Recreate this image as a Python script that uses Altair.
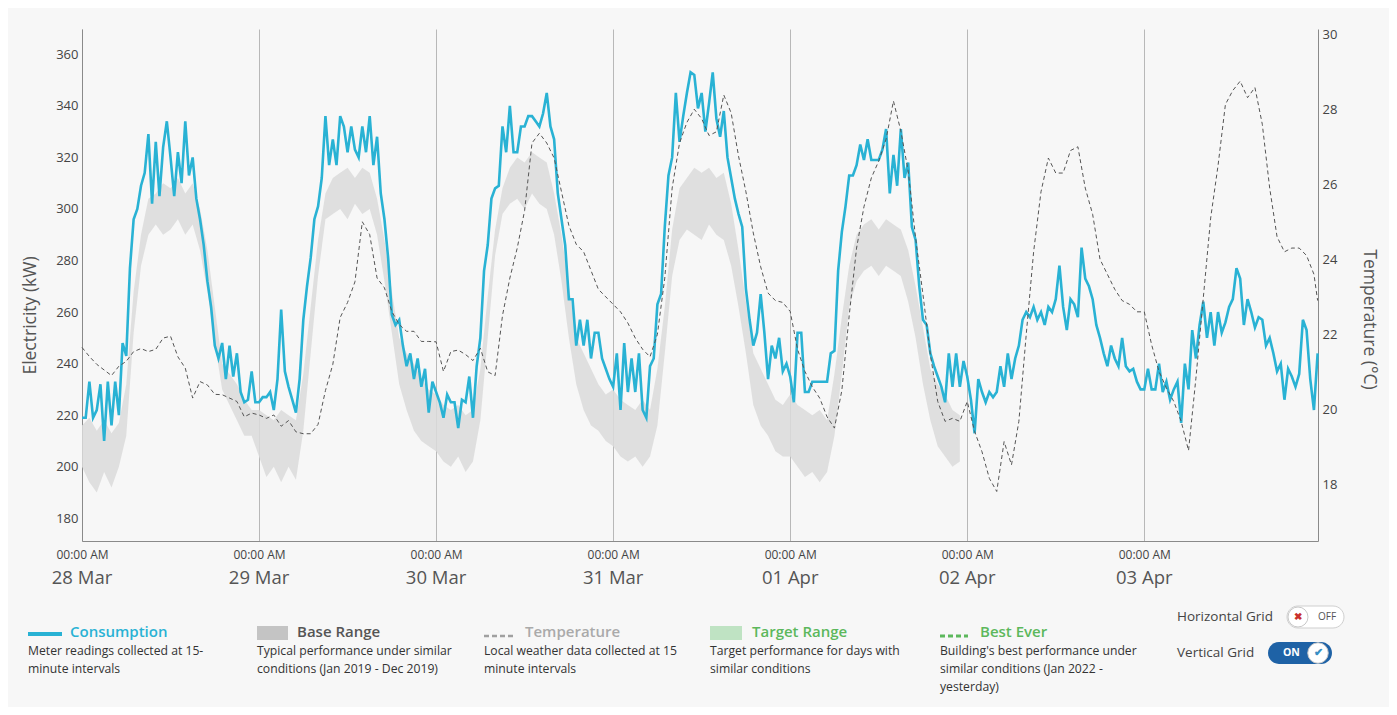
import altair as alt
import pandas as pd

# ---------------- data ----------------
# Consumption (kW), 30-minute readings, 48 per day
cons_28mar = [219, 219, 233, 219, 222, 232, 210, 233, 216, 233, 220, 248, 243, 277, 296, 300, 309, 314, 329, 302, 326, 305, 324, 334, 320, 305, 322, 310, 334, 313, 320, 304, 296, 286, 272, 262, 247, 242, 248, 234, 247, 235, 244, 229, 225, 226, 237, 225]
cons_29mar = [225, 227, 227, 229, 222, 234, 261, 237, 231, 226, 221, 234, 257, 270, 281, 296, 301, 312, 336, 317, 327, 317, 336, 332, 322, 332, 323, 320, 332, 322, 336, 317, 328, 306, 296, 281, 259, 255, 257, 247, 239, 244, 234, 242, 231, 238, 221, 233]
cons_30mar = [229, 225, 219, 228, 225, 225, 215, 226, 225, 235, 219, 239, 250, 276, 286, 304, 308, 309, 332, 322, 340, 322, 322, 332, 332, 336, 336, 334, 332, 337, 345, 332, 327, 306, 296, 286, 265, 265, 247, 257, 247, 257, 242, 252, 252, 242, 238, 234]
cons_31mar = [231, 244, 222, 248, 229, 242, 229, 244, 222, 219, 239, 242, 263, 267, 293, 313, 320, 345, 326, 336, 345, 353, 352, 339, 345, 330, 341, 353, 335, 328, 338, 320, 312, 304, 298, 293, 269, 257, 247, 252, 267, 252, 234, 247, 242, 250, 237, 240]
cons_01apr = [235, 225, 252, 252, 229, 229, 233, 233, 233, 233, 233, 244, 245, 276, 291, 301, 313, 313, 317, 325, 319, 327, 319, 319, 319, 323, 331, 306, 321, 309, 331, 312, 318, 293, 288, 270, 257, 255, 244, 239, 235, 231, 225, 244, 231, 244, 231, 241]
cons_02apr = [235, 226, 213, 234, 229, 225, 229, 227, 229, 239, 231, 244, 234, 242, 247, 257, 260, 258, 262, 257, 260, 255, 262, 260, 265, 278, 262, 253, 265, 263, 258, 285, 273, 270, 265, 255, 250, 244, 239, 247, 242, 239, 250, 239, 237, 238, 233, 230]
cons_03apr = [230, 238, 230, 230, 240, 229, 233, 226, 230, 233, 217, 240, 230, 253, 242, 255, 264, 250, 260, 247, 260, 252, 256, 262, 265, 277, 273, 255, 265, 260, 254, 258, 257, 247, 250, 244, 237, 240, 226, 238, 235, 231, 236, 257, 253, 234, 222, 244]

# Base range (kW), hourly low / high, 28 Mar - 01 Apr
base_lo_28mar = [200, 194, 190, 198, 192, 200, 212, 252, 278, 290, 294, 290, 292, 296, 290, 294, 284, 268, 248, 230, 224, 218, 212, 212]
base_hi_28mar = [216, 219, 214, 218, 213, 217, 232, 268, 290, 304, 306, 310, 308, 312, 306, 310, 300, 284, 262, 240, 236, 232, 226, 222]
base_lo_29mar = [204, 196, 200, 194, 200, 195, 214, 244, 274, 296, 298, 300, 296, 302, 298, 300, 290, 272, 252, 232, 222, 214, 210, 208]
base_hi_29mar = [222, 220, 218, 222, 220, 218, 236, 262, 288, 306, 312, 314, 316, 312, 316, 314, 304, 288, 268, 250, 244, 240, 234, 230]
base_lo_30mar = [206, 202, 200, 204, 198, 202, 218, 250, 282, 298, 302, 304, 300, 306, 302, 300, 290, 272, 250, 232, 222, 216, 214, 210]
base_hi_30mar = [228, 224, 222, 224, 220, 222, 238, 266, 292, 308, 316, 320, 318, 322, 320, 318, 306, 290, 270, 250, 244, 238, 232, 228]
base_lo_31mar = [208, 204, 202, 204, 200, 204, 216, 244, 274, 288, 292, 290, 288, 294, 290, 288, 278, 262, 244, 224, 216, 212, 206, 204]
base_hi_31mar = [230, 226, 224, 222, 226, 222, 238, 262, 292, 308, 312, 316, 314, 316, 312, 314, 302, 284, 264, 244, 238, 232, 226, 224]
base_lo_01apr = [204, 200, 196, 198, 194, 198, 212, 236, 262, 272, 276, 278, 274, 278, 276, 274, 264, 250, 232, 218, 208, 204, 200, 202]
base_hi_01apr = [228, 224, 222, 220, 222, 218, 236, 258, 278, 290, 294, 296, 292, 296, 294, 292, 284, 270, 254, 238, 232, 228, 222, 220]

# Temperature (deg C), hourly
temp_28mar = [21.65, 21.41, 21.20, 21.05, 20.90, 21.15, 21.28, 21.54, 21.62, 21.54, 21.60, 21.90, 21.95, 21.40, 21.10, 20.30, 20.74, 20.65, 20.40, 20.39, 20.30, 20.21, 19.80, 19.90]
temp_29mar = [19.85, 19.76, 19.85, 19.55, 19.70, 19.40, 19.35, 19.35, 19.60, 20.50, 21.20, 22.45, 22.85, 23.40, 25.00, 24.66, 23.50, 23.24, 22.61, 22.26, 22.08, 22.08, 21.81, 21.81]
temp_30mar = [21.80, 21.01, 21.54, 21.58, 21.46, 21.30, 21.63, 21.00, 20.90, 22.50, 23.50, 24.30, 25.30, 27.10, 27.36, 27.10, 26.70, 25.80, 24.90, 24.40, 24.20, 23.70, 23.20, 23.00]
temp_31mar = [22.80, 22.60, 22.30, 21.90, 21.60, 21.40, 22.00, 23.50, 25.90, 27.10, 27.65, 28.00, 27.75, 27.30, 27.40, 28.38, 27.90, 26.75, 25.80, 24.70, 23.80, 23.10, 22.90, 22.85]
temp_01apr = [22.61, 21.60, 21.01, 20.60, 20.30, 19.80, 19.50, 20.50, 22.50, 24.30, 25.40, 26.17, 26.62, 27.20, 28.22, 27.42, 26.35, 24.57, 23.06, 21.46, 20.21, 19.68, 19.76, 19.68]
temp_02apr = [20.21, 19.41, 18.87, 18.16, 17.81, 19.14, 18.52, 19.68, 22.00, 24.20, 25.80, 26.70, 26.30, 26.30, 26.90, 27.00, 25.90, 25.20, 24.00, 23.60, 23.20, 22.90, 22.80, 22.60]
temp_03apr = [22.60, 21.72, 21.01, 20.57, 20.21, 19.68, 18.90, 20.83, 22.97, 25.10, 26.50, 28.13, 28.50, 28.75, 28.31, 28.58, 27.60, 25.90, 24.60, 24.20, 24.30, 24.30, 24.10, 23.60]
temp_last = [22.90]   # 03 Apr 23:30

day_labels = ["28 Mar", "29 Mar", "30 Mar", "31 Mar", "01 Apr", "02 Apr", "03 Apr"]
kw_ticks = [180, 200, 220, 240, 260, 280, 300, 320, 340, 360]
temp_ticks = [18, 20, 22, 24, 26, 28, 30]

# ---------------- tables ----------------
cons_days = [cons_28mar, cons_29mar, cons_30mar, cons_31mar, cons_01apr, cons_02apr, cons_03apr]
cons_rows = []
for d, vals in enumerate(cons_days):
    for i, v in enumerate(vals):
        cons_rows.append({"hour": d * 24 + i * 0.5, "kw": v})
df_cons = pd.DataFrame(cons_rows)

base_days = [(base_lo_28mar, base_hi_28mar), (base_lo_29mar, base_hi_29mar), (base_lo_30mar, base_hi_30mar),
             (base_lo_31mar, base_hi_31mar), (base_lo_01apr, base_hi_01apr)]
base_rows = []
for d, (lo, hi) in enumerate(base_days):
    for i in range(len(lo)):
        base_rows.append({"hour": d * 24 + i, "lo": lo[i], "hi": hi[i]})
df_base = pd.DataFrame(base_rows)

temp_days = [temp_28mar, temp_29mar, temp_30mar, temp_31mar, temp_01apr, temp_02apr, temp_03apr]
temp_rows = []
for d, vals in enumerate(temp_days):
    for i, v in enumerate(vals):
        temp_rows.append({"hour": d * 24 + i, "temp": v})
temp_rows.append({"hour": 6 * 24 + 23.5, "temp": temp_last[0]})
df_temp = pd.DataFrame(temp_rows)

df_days = pd.DataFrame({"hour": [d * 24 for d in range(len(day_labels))], "label": day_labels})
one = pd.DataFrame({"k": [0]})

# ---------------- layout ----------------
FONT = "Open Sans"
W, H = 1236, 512
OX, OY = 82, 29          # plot origin on the page
BLUE = "#29b2d4"

x_enc = alt.X("hour:Q",
              scale=alt.Scale(domain=[0, 167.55], nice=False, zero=False),
              axis=alt.Axis(values=[d * 24 for d in range(7)], labelExpr="'00:00 AM'",
                            grid=True, gridColor="#b8b8b8", gridWidth=1, ticks=False,
                            domainColor="#8a8a8a", labelFontSize=12, labelColor="#444",
                            labelFont=FONT, labelPadding=8, labelFlush=False,
                            labelOverlap=False, title=None))

kw_scale = alt.Scale(domain=[171.2, 369.8], nice=False, zero=False)
kw_axis = alt.Axis(values=kw_ticks, grid=False, ticks=False, domainColor="#8a8a8a",
                   labelFontSize=13, labelColor="#444", labelFont=FONT, labelPadding=4,
                   title="Electricity (kW)", titleFont=FONT, titleFontSize=17.5,
                   titleFontWeight="normal", titleColor="#555",
                   titleX=-52, titleY=286, titleAngle=270, titleAlign="center",
                   titleBaseline="middle")

base_area = alt.Chart(df_base).mark_area(color="#dadada", opacity=0.85).encode(
    x=x_enc,
    y=alt.Y("lo:Q", scale=kw_scale, axis=kw_axis, title="Electricity (kW)"),
    y2="hi:Q",
)

cons_line = alt.Chart(df_cons).mark_line(color=BLUE, strokeWidth=2.6).encode(
    x=x_enc,
    y=alt.Y("kw:Q", scale=kw_scale, axis=kw_axis, title="Electricity (kW)"),
)

temp_line = alt.Chart(df_temp).mark_line(color="#555", strokeWidth=1, strokeDash=[4, 3]).encode(
    x=x_enc,
    y=alt.Y("temp:Q", scale=alt.Scale(domain=[16.49, 30.14], nice=False, zero=False),
            axis=alt.Axis(orient="right", values=temp_ticks, grid=False, ticks=False,
                          domainColor="#8a8a8a", labelFontSize=13, labelColor="#444",
                          labelFont=FONT, labelPadding=4,
                          title="Temperature (°C)", titleFont=FONT, titleFontSize=17.5,
                          titleFontWeight="normal", titleColor="#555",
                          titleX=50, titleY=290, titleAngle=90, titleAlign="center",
                          titleBaseline="middle")),
)

day_text = alt.Chart(df_days).mark_text(fontSize=18.5, color="#555", font=FONT, baseline="middle",
                                        align="center").encode(
    x=x_enc, y=alt.value(578 - OY), text="label:N")


def txt(s, X, Y, size=12, color="#333", weight="normal", align="left"):
    return alt.Chart(one).mark_text(text=s, fontSize=size, color=color, font=FONT,
                                    fontWeight=weight, align=align, baseline="middle").encode(
        x=alt.value(X - OX), y=alt.value(Y - OY))


def rect(X1, X2, Y1, Y2, fill, stroke=None, radius=0):
    kw = dict(color=fill, cornerRadius=radius)
    if stroke:
        kw.update(stroke=stroke, strokeWidth=1)
    return alt.Chart(one).mark_rect(**kw).encode(
        x=alt.value(X1 - OX), x2=alt.value(X2 - OX), y=alt.value(Y1 - OY), y2=alt.value(Y2 - OY))


def hline(X1, X2, Y, color, width, dash=None):
    kw = dict(color=color, strokeWidth=width)
    if dash:
        kw["strokeDash"] = dash
    return alt.Chart(one).mark_rule(**kw).encode(
        x=alt.value(X1 - OX), x2=alt.value(X2 - OX), y=alt.value(Y - OY))


def dot(X, Y, size, fill, stroke):
    return alt.Chart(one).mark_point(shape="circle", filled=True, fill=fill, stroke=stroke,
                                     strokeWidth=1, opacity=1, size=size).encode(
        x=alt.value(X - OX), y=alt.value(Y - OY))


DS = 12.2
legend = [
    hline(28, 62, 634, BLUE, 4),
    txt("Consumption", 70, 632, 15, BLUE, 600),
    txt("Meter readings collected at 15-", 28, 651, DS),
    txt("minute intervals", 28, 669, DS),

    rect(257, 288, 626, 640, "#c4c4c4"),
    txt("Base Range", 297, 632, 15, "#555", 600),
    txt("Typical performance under similar", 257, 651, DS),
    txt("conditions (Jan 2019 - Dec 2019)", 257, 669, DS),

    hline(484, 515, 636, "#a0a0a0", 2.5, [5, 3]),
    txt("Temperature", 525, 632, 15, "#aaaaaa", 600),
    txt("Local weather data collected at 15", 484, 651, DS),
    txt("minute intervals", 484, 669, DS),

    rect(710, 742, 626, 640, "#bfe3c3"),
    txt("Target Range", 752, 632, 15, "#5cb85c", 600),
    txt("Target performance for days with", 710, 651, DS),
    txt("similar conditions", 710, 669, DS),

    hline(940, 968, 636, "#5cb85c", 3, [5, 3]),
    txt("Best Ever", 980, 632, 15, "#5cb85c", 600),
    txt("Building's best performance under", 940, 651, DS),
    txt("similar conditions (Jan 2022 -", 940, 669, DS),
    txt("yesterday)", 940, 687, DS),

    txt("Horizontal Grid", 1177, 617, 13.5, "#444"),
    rect(1287, 1344, 606, 628, "#ffffff", "#cfcfcf", 11),
    txt("OFF", 1318, 617, 10, "#555"),
    dot(1298, 617, 400, "#ffffff", "#c8c8c8"),
    txt("✖", 1298, 617, 10, "#c9302c", "bold", "center"),

    txt("Vertical Grid", 1177, 653, 13.5, "#444"),
    rect(1268, 1332, 642, 664, "#1e62a6", None, 11),
    txt("ON", 1283, 653, 10.5, "#ffffff", "bold"),
    dot(1318, 653, 420, "#ffffff", "#c8c8c8"),
    txt("✔", 1318, 653, 11, "#3a8fc4", "bold", "center"),
]

left = alt.layer(base_area, cons_line)
chart = alt.layer(left, temp_line, day_text, *legend).resolve_scale(y="independent").properties(
    width=W, height=H,
    padding={"left": OX - 8, "top": OY - 8, "right": 1381 - (OX - 8) - W, "bottom": 699 - (OY - 8) - H},
    autosize=alt.AutoSizeParams(type="none"),
    background="#f7f7f7",
).configure_view(stroke=None)

chart.save("out.html", embed_options={"renderer": "svg", "actions": False})
